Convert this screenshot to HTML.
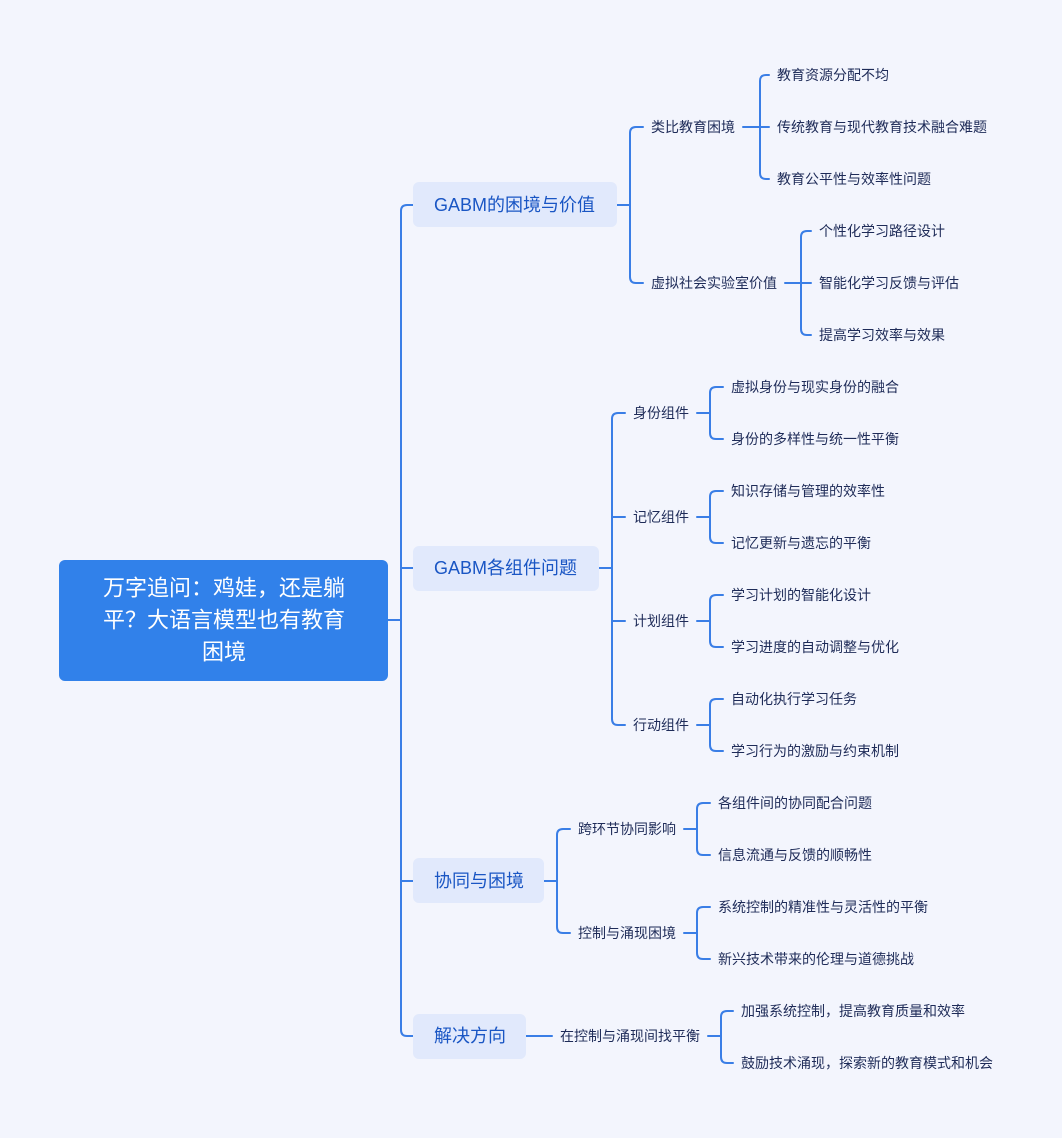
<!DOCTYPE html>
<html><head><meta charset="utf-8"><style>
html,body{margin:0;padding:0;background:#f3f5fd;}
svg{display:block;}
text{font-family:"Liberation Sans","Noto Sans CJK SC",sans-serif;dominant-baseline:central;}
.s{font-size:14px;fill:#1e2b58;}
.m{font-size:18px;fill:#1a56c4;}
.r{font-size:22px;fill:#ffffff;text-anchor:middle;}
path{fill:none;stroke:#3a7ee6;stroke-width:2;stroke-linecap:round;}
</style></head><body>
<svg width="1062" height="1138" viewBox="0 0 1062 1138" xmlns="http://www.w3.org/2000/svg">
<rect width="1062" height="1138" fill="#f3f5fd"/>
<!-- trunk -->
<path d="M388,620 L401,620 M413,205 L407,205 Q401,205 401,211 L401,1030 Q401,1036 407,1036 L413,1036 M401,568 L413,568 M401,881 L413,881"/>
<!-- G1 -->
<path d="M617,205 L630,205 M643,127 L636,127 Q630,127 630,133 L630,277 Q630,283 636,283 L643,283"/>
<path d="M743,127 L760,127 M769,75 L766,75 Q760,75 760,81 L760,173 Q760,179 766,179 L769,179 M760,127 L769,127"/>
<path d="M785,283 L801,283 M811,231 L807,231 Q801,231 801,237 L801,329 Q801,335 807,335 L811,335 M801,283 L811,283"/>
<!-- G2 -->
<path d="M599,568 L612,568 M625,413 L618,413 Q612,413 612,419 L612,719 Q612,725 618,725 L625,725 M612,517 L625,517 M612,621 L625,621"/>
<path d="M697,413 L710,413 M723,387 L716,387 Q710,387 710,393 L710,433 Q710,439 716,439 L723,439"/>
<path d="M697,517 L710,517 M723,491 L716,491 Q710,491 710,497 L710,537 Q710,543 716,543 L723,543"/>
<path d="M697,621 L710,621 M723,595 L716,595 Q710,595 710,601 L710,641 Q710,647 716,647 L723,647"/>
<path d="M697,725 L710,725 M723,699 L716,699 Q710,699 710,705 L710,745 Q710,751 716,751 L723,751"/>
<!-- G3 -->
<path d="M544,881 L557,881 M570,829 L563,829 Q557,829 557,835 L557,927 Q557,933 563,933 L570,933"/>
<path d="M684,829 L697,829 M710,803 L703,803 Q697,803 697,809 L697,849 Q697,855 703,855 L710,855"/>
<path d="M684,933 L697,933 M710,907 L703,907 Q697,907 697,913 L697,953 Q697,959 703,959 L710,959"/>
<!-- G4 -->
<path d="M526,1036 L552,1036"/>
<path d="M708,1036 L721,1036 M733,1011 L727,1011 Q721,1011 721,1017 L721,1057 Q721,1063 727,1063 L733,1063"/>

<!-- root -->
<rect x="59" y="560" width="329" height="121" rx="6" fill="#3181ea"/>
<text class="r" x="224" y="588">万字追问：鸡娃，还是躺</text>
<text class="r" x="224" y="620">平？大语言模型也有教育</text>
<text class="r" x="224" y="652">困境</text>

<!-- level 1 -->
<rect x="413" y="182" width="204" height="45" rx="6" fill="#e1e9fc"/>
<text class="m" x="434" y="205">GABM的困境与价值</text>
<rect x="413" y="546" width="186" height="45" rx="6" fill="#e1e9fc"/>
<text class="m" x="434" y="568">GABM各组件问题</text>
<rect x="413" y="858" width="131" height="45" rx="6" fill="#e1e9fc"/>
<text class="m" x="434" y="881">协同与困境</text>
<rect x="413" y="1014" width="113" height="45" rx="6" fill="#e1e9fc"/>
<text class="m" x="434" y="1036">解决方向</text>

<!-- level 2/3 -->
<text class="s" x="651" y="127">类比教育困境</text>
<text class="s" x="777" y="75">教育资源分配不均</text>
<text class="s" x="777" y="127">传统教育与现代教育技术融合难题</text>
<text class="s" x="777" y="179">教育公平性与效率性问题</text>
<text class="s" x="651" y="283">虚拟社会实验室价值</text>
<text class="s" x="819" y="231">个性化学习路径设计</text>
<text class="s" x="819" y="283">智能化学习反馈与评估</text>
<text class="s" x="819" y="335">提高学习效率与效果</text>

<text class="s" x="633" y="413">身份组件</text>
<text class="s" x="731" y="387">虚拟身份与现实身份的融合</text>
<text class="s" x="731" y="439">身份的多样性与统一性平衡</text>
<text class="s" x="633" y="517">记忆组件</text>
<text class="s" x="731" y="491">知识存储与管理的效率性</text>
<text class="s" x="731" y="543">记忆更新与遗忘的平衡</text>
<text class="s" x="633" y="621">计划组件</text>
<text class="s" x="731" y="595">学习计划的智能化设计</text>
<text class="s" x="731" y="647">学习进度的自动调整与优化</text>
<text class="s" x="633" y="725">行动组件</text>
<text class="s" x="731" y="699">自动化执行学习任务</text>
<text class="s" x="731" y="751">学习行为的激励与约束机制</text>

<text class="s" x="578" y="829">跨环节协同影响</text>
<text class="s" x="718" y="803">各组件间的协同配合问题</text>
<text class="s" x="718" y="855">信息流通与反馈的顺畅性</text>
<text class="s" x="578" y="933">控制与涌现困境</text>
<text class="s" x="718" y="907">系统控制的精准性与灵活性的平衡</text>
<text class="s" x="718" y="959">新兴技术带来的伦理与道德挑战</text>

<text class="s" x="560" y="1036">在控制与涌现间找平衡</text>
<text class="s" x="741" y="1011">加强系统控制，提高教育质量和效率</text>
<text class="s" x="741" y="1063">鼓励技术涌现，探索新的教育模式和机会</text>
</svg>
</body></html>
